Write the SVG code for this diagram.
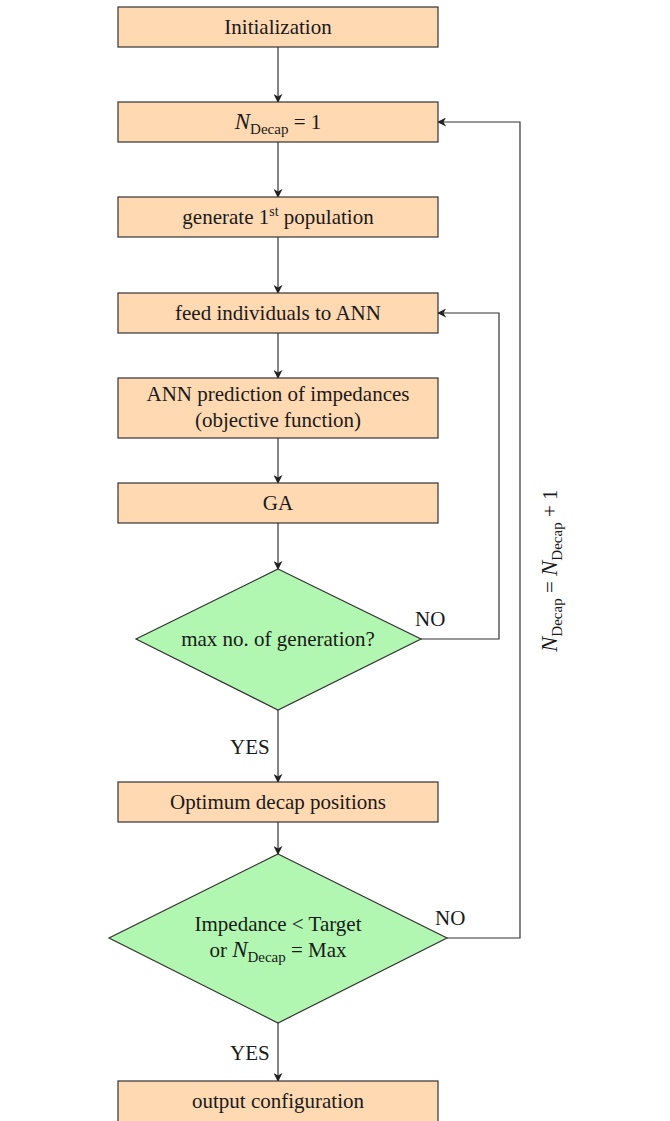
<svg xmlns="http://www.w3.org/2000/svg" width="670" height="1121" viewBox="0 0 670 1121">
<style>
.box{fill:#FFD9B1;stroke:#333;stroke-width:1.2}
.dia{fill:#B1F7B1;stroke:#333;stroke-width:1.2}
.t{font-family:"Liberation Serif",serif;font-size:21px;fill:#1a1a1a;text-anchor:middle}
.l{font-family:"Liberation Serif",serif;font-size:21px;fill:#1a1a1a}
.i{font-style:italic;font-size:23px}
.s{font-size:15px}
.c{fill:none;stroke:#333;stroke-width:1.2}
</style>
<defs>
<marker id="ah" viewBox="0 0 10 10" refX="9" refY="5" markerWidth="9" markerHeight="9" markerUnits="userSpaceOnUse" orient="auto">
<path d="M0,0 L10,5 L0,10 L3,5 Z" fill="#222"/>
</marker>
</defs>
<rect width="670" height="1121" fill="#fff"/>
<g id="connectors">
<line class="c" x1="278" y1="47" x2="278" y2="102" marker-end="url(#ah)"/>
<line class="c" x1="278" y1="142" x2="278" y2="197" marker-end="url(#ah)"/>
<line class="c" x1="278" y1="237" x2="278" y2="293" marker-end="url(#ah)"/>
<line class="c" x1="278" y1="333" x2="278" y2="378" marker-end="url(#ah)"/>
<line class="c" x1="278" y1="438" x2="278" y2="483" marker-end="url(#ah)"/>
<line class="c" x1="278" y1="523" x2="278" y2="569" marker-end="url(#ah)"/>
<line class="c" x1="278" y1="710" x2="278" y2="782" marker-end="url(#ah)"/>
<line class="c" x1="278" y1="822" x2="278" y2="854" marker-end="url(#ah)"/>
<line class="c" x1="278" y1="1023" x2="278" y2="1081" marker-end="url(#ah)"/>
<polyline class="c" points="421,639 499,639 499,313 438,313" marker-end="url(#ah)"/>
<polyline class="c" points="447,938 520,938 520,122 438,122" marker-end="url(#ah)"/>
<text class="l" x="415" y="626">NO</text>
<text class="l" x="435" y="925">NO</text>
<text class="l" x="230" y="754">YES</text>
<text class="l" x="230" y="1060">YES</text>
<text class="l" transform="translate(557,652) rotate(-90)"><tspan class="i">N</tspan><tspan class="s" dy="5">Decap</tspan><tspan dy="-5"> = </tspan><tspan class="i">N</tspan><tspan class="s" dy="5">Decap</tspan><tspan dy="-5"> + 1</tspan></text>
</g>
<g id="init"><rect class="box" x="118" y="7" width="320" height="40"/><text class="t" x="278" y="34">Initialization</text></g>
<g id="ndecap1"><rect class="box" x="118" y="102" width="320" height="40"/><text class="t" x="278" y="129"><tspan class="i">N</tspan><tspan class="s" dy="5">Decap</tspan><tspan dy="-5"> = 1</tspan></text></g>
<g id="gen1"><rect class="box" x="118" y="197" width="320" height="40"/><text class="t" x="278" y="224">generate 1<tspan font-size="14" dy="-8">st</tspan><tspan dy="8"> population</tspan></text></g>
<g id="feed"><rect class="box" x="118" y="293" width="320" height="40"/><text class="t" x="278" y="320">feed individuals to ANN</text></g>
<g id="ann"><rect class="box" x="118" y="378" width="320" height="60"/><text class="t" x="278" y="401">ANN prediction of impedances</text><text class="t" x="278" y="427">(objective function)</text></g>
<g id="ga"><rect class="box" x="118" y="483" width="320" height="40"/><text class="t" x="278" y="510">GA</text></g>
<g id="maxgen"><polygon class="dia" points="278,569 421,639 278,710 136,639"/><text class="t" x="278" y="646">max no. of generation?</text></g>
<g id="optimum"><rect class="box" x="118" y="782" width="320" height="40"/><text class="t" x="278" y="809">Optimum decap positions</text></g>
<g id="impedance"><polygon class="dia" points="278,854 447,938 278,1023 109,938"/><text class="t" x="278" y="931">Impedance &lt; Target</text><text class="t" x="278" y="957">or <tspan class="i">N</tspan><tspan class="s" dy="5">Decap</tspan><tspan dy="-5"> = Max</tspan></text></g>
<g id="output"><rect class="box" x="118" y="1081" width="320" height="44"/><text class="t" x="278" y="1108">output configuration</text></g>
</svg>
